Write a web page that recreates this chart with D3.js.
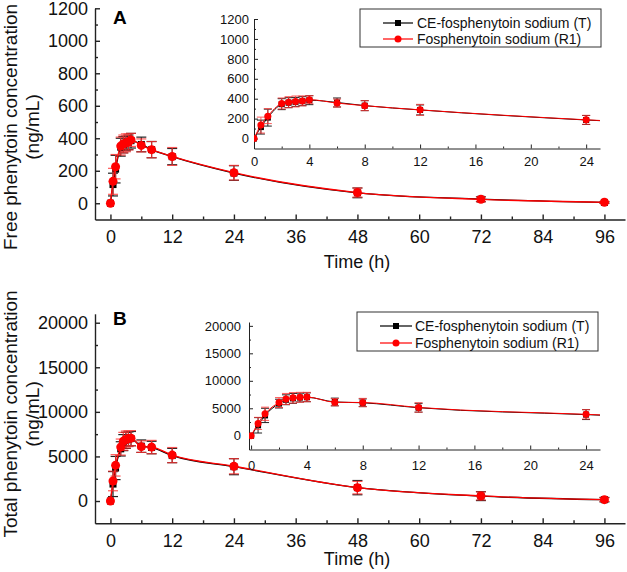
<!DOCTYPE html>
<html>
<head>
<meta charset="utf-8">
<script src="https://cdn.jsdelivr.net/npm/d3@7"></script>
<style>
    body { margin: 0; background: #fff; }
    svg { display: block; font-family: "Liberation Sans", Arial, sans-serif; }
</style>
</head>
<body>
<svg id="chart" width="627" height="572"></svg>
<script>
// sampling times (h)
var times = [0, 0.5, 1, 2, 2.5, 3, 3.5, 4, 6, 8, 12, 24, 48, 72, 96];

var seriesNames = ["CE-fosphenytoin sodium (T)", "Fosphenytoin sodium (R1)"];

// free phenytoin (ng/mL), mean and SD
var freeT = [0, 115, 210, 345, 360, 368, 375, 385, 362, 330, 287, 186, 64, 25, 5];
var freeTsd = [0, 70, 85, 55, 50, 45, 45, 45, 45, 50, 50, 45, 30, 15, 5];
var freeR = [0, 135, 225, 352, 365, 372, 378, 390, 356, 330, 288, 188, 66, 24, 6];
var freeRsd = [0, 80, 75, 55, 55, 55, 50, 40, 40, 50, 55, 45, 28, 15, 5];

// total phenytoin (ng/mL), mean and SD
var totalT = [0, 1900, 3700, 5850, 6550, 6800, 6950, 7000, 6150, 6000, 5100, 3850, 1500, 550, 150];
var totalTsd = [0, 1400, 1300, 800, 900, 900, 800, 800, 700, 700, 800, 900, 800, 500, 250];
var totalR = [0, 2250, 4000, 6050, 6700, 6900, 7000, 7050, 6100, 6050, 5150, 3900, 1500, 570, 150];
var totalRsd = [0, 1100, 1200, 900, 1000, 950, 900, 850, 650, 750, 850, 850, 700, 450, 200];

// tick labels
var mainXTicks = [0, 12, 24, 36, 48, 60, 72, 84, 96];
var insetXTicks = [0, 4, 8, 12, 16, 20, 24];
var freeYTicks = [0, 200, 400, 600, 800, 1000, 1200];
var totalYTicks = [0, 5000, 10000, 15000, 20000];

var svg = d3.select("#chart");

function makeSeries(m, sd) {
    return times.map(function (t, i) { return { t: t, v: m[i], sd: sd[i] } });
}

var freeSeries = [makeSeries(freeT, freeTsd), makeSeries(freeR, freeRsd)];
var totalSeries = [makeSeries(totalT, totalTsd), makeSeries(totalR, totalRsd)];

function minorValues(ticks, step, lo, hi) {
    var out = [];
    for (var v = lo; v <= hi + 1e-9; v += step) {
        if (ticks.indexOf(+v.toFixed(4)) < 0) out.push(v);
    }
    return out;
}

function drawPlot(cfg) {
    var g = svg.append("g");
    var x = d3.scaleLinear().domain(cfg.xDomain).range(cfg.xRange);
    var y = d3.scaleLinear().domain(cfg.yDomain).range(cfg.yRange);
    var y0 = cfg.yRange[0], x0 = cfg.xRange[0];
    var fmt = d3.format("d");

    // x axis (ticks point inward)
    g.append("g").attr("transform", "translate(0," + y0 + ")")
        .call(d3.axisBottom(x).tickValues(cfg.xTicks).tickFormat(fmt).tickSize(-cfg.major).tickSizeOuter(0).tickPadding(cfg.xPad));
    g.append("g").attr("transform", "translate(0," + y0 + ")")
        .call(d3.axisBottom(x).tickValues(cfg.xMinor).tickSize(-cfg.minor).tickFormat("").tickSizeOuter(0))
        .select(".domain").remove();

    g.append("g").attr("transform", "translate(" + x0 + ",0)")
        .call(d3.axisLeft(y).tickValues(cfg.yTicks).tickFormat(fmt).tickSize(-cfg.major).tickSizeOuter(0).tickPadding(cfg.yPad));
    g.append("g").attr("transform", "translate(" + x0 + ",0)")
        .call(d3.axisLeft(y).tickValues(cfg.yMinor).tickSize(-cfg.minor).tickFormat("").tickSizeOuter(0))
        .select(".domain").remove();

    g.selectAll(".domain").attr("stroke", "#222").attr("stroke-width", cfg.axisW);
    g.selectAll(".tick line").attr("stroke", "#222").attr("stroke-width", cfg.axisW);
    g.selectAll(".tick text").attr("fill", "#111").style("font-size", cfg.font + "px")
        .style("font-family", '"Liberation Sans", Arial, sans-serif');

    var plot = g.append("g");
    if (cfg.clip) {
        svg.append("clipPath").attr("id", cfg.clip).append("rect")
            .attr("x", x0).attr("y", cfg.yRange[1] - 10)
            .attr("width", cfg.xRange[1] - x0).attr("height", y0 - cfg.yRange[1] + 10);
        plot.attr("clip-path", "url(#" + cfg.clip + ")");
    }

    var line = d3.line().x(d => x(d.t)).y(d => y(d.v)).curve(d3.curveMonotoneX);
    var colors = ["#000000", "#ff0000"];
    var errColors = ["#222222", "#ff3030"];

    cfg.series.forEach(function (s, k) {
        var pts = s.filter(d => d.t <= cfg.xDomain[1]);
        plot.append("path").datum(s)
            .attr("d", line).attr("fill", "none")
            .attr("stroke", colors[k]).attr("stroke-width", cfg.lineW);

        var eb = plot.append("g").attr("stroke", errColors[k])
            .attr("stroke-width", cfg.errW).attr("opacity", k == 1 ? 0.8 : 1);
        var cw = cfg.cap / 2;
        pts.filter(d => d.sd > 0).forEach(function (d) {
            var cx = x(d.t), top = y(d.v + d.sd), bot = y(d.v - d.sd);
            eb.append("line").attr("x1", cx).attr("x2", cx).attr("y1", top).attr("y2", bot);
            eb.append("line").attr("x1", cx - cw).attr("x2", cx + cw).attr("y1", top).attr("y2", top);
            eb.append("line").attr("x1", cx - cw).attr("x2", cx + cw).attr("y1", bot).attr("y2", bot);
        });

        if (k == 0) {
            plot.append("g").selectAll("rect").data(pts).enter().append("rect")
                .attr("x", d => x(d.t) - cfg.sq / 2).attr("y", d => y(d.v) - cfg.sq / 2)
                .attr("width", cfg.sq).attr("height", cfg.sq).attr("fill", "#000");
        } else {
            plot.append("g").selectAll("circle").data(pts).enter().append("circle")
                .attr("cx", d => x(d.t)).attr("cy", d => y(d.v))
                .attr("r", cfg.r).attr("fill", "#ff0000");
        }
    });
    return g;
}

function drawLegend(lx, ly, w, h, rowY, lineX1, lineX2, textX) {
    var lg = svg.append("g");
    lg.append("rect").attr("x", lx).attr("y", ly).attr("width", w).attr("height", h)
        .attr("fill", "#fff").attr("stroke", "#333").attr("stroke-width", 1);
    var cols = ["#000", "#ff0000"];
    seriesNames.forEach(function (name, i) {
        var yy = rowY[i];
        lg.append("line").attr("x1", lineX1).attr("x2", lineX2).attr("y1", yy).attr("y2", yy)
            .attr("stroke", cols[i]).attr("stroke-width", 1.2);
        var mx = (lineX1 + lineX2) / 2;
        if (i == 0) {
            lg.append("rect").attr("x", mx - 3).attr("y", yy - 3).attr("width", 6).attr("height", 6).attr("fill", "#000");
        } else {
            lg.append("circle").attr("cx", mx).attr("cy", yy).attr("r", 3.5).attr("fill", "#ff0000");
        }
        lg.append("text").attr("x", textX).attr("y", yy + 5).style("font-size", "14px")
            .attr("fill", "#111").text(name);
    });
}

function yTitle(lines, cy) {
    lines.forEach(function (l) {
        svg.append("text")
            .attr("transform", "translate(" + l.x + "," + cy + ") rotate(-90)")
            .attr("text-anchor", "middle").style("font-size", "19px").attr("fill", "#111")
            .text(l.t);
    });
}

var mainCommon = {
    xDomain: [-3, 100], xRange: [95, 625], xTicks: mainXTicks,
    xMinor: minorValues(mainXTicks, 6, 6, 96),
    major: 5, minor: 3, font: 18, axisW: 1.4, xPad: 10.5, yPad: 7,
    lineW: 1.3, errW: 1.2, cap: 10, sq: 7, r: 4.5
};
var insetCommon = {
    xTicks: insetXTicks, xMinor: minorValues(insetXTicks, 2, 2, 24),
    major: 4, minor: 2, font: 13, axisW: 1, yPad: 5,
    lineW: 1, errW: 1, cap: 8, sq: 6, r: 3.5
};

// ---- panel A ----
drawPlot(Object.assign({}, mainCommon, {
    yDomain: [-100, 1200], yRange: [219.5, 8.3], yTicks: freeYTicks,
    yMinor: minorValues(freeYTicks, 100, 100, 1200), series: freeSeries
}));
drawPlot(Object.assign({}, insetCommon, {
    xDomain: [0, 25], xRange: [254, 600], xPad: 8,
    yDomain: [-100, 1200], yRange: [148.5, 19], yTicks: freeYTicks,
    yMinor: minorValues(freeYTicks, 100, 100, 1200), series: freeSeries, clip: "clipA"
}));
drawLegend(360, 9, 241, 38, [23, 39], 383, 413, 417);

svg.append("text").attr("x", 113).attr("y", 24).style("font-size", "19px")
    .style("font-weight", "bold").text("A");
svg.append("text").attr("x", 357).attr("y", 268).attr("text-anchor", "middle")
    .style("font-size", "18px").attr("fill", "#111").text("Time (h)");
yTitle([{ t: "Free phenytoin concentration", x: 17 }, { t: "(ng/mL)", x: 39 }], 127);

// ---- panel B ----
drawPlot(Object.assign({}, mainCommon, {
    yDomain: [-2500, 21000], yRange: [523.3, 313.8], yTicks: totalYTicks,
    yMinor: minorValues(totalYTicks, 2500, 2500, 17500), series: totalSeries
}));
drawPlot(Object.assign({}, insetCommon, {
    xDomain: [-0.15, 25], xRange: [249, 600], xPad: 11, yPad: 8,
    yDomain: [-2500, 20700], yRange: [449.5, 322], yTicks: totalYTicks,
    yMinor: minorValues(totalYTicks, 2500, 2500, 17500), series: totalSeries, clip: "clipB"
}));
drawLegend(357, 312, 241, 39, [326, 343], 380, 412, 415);

svg.append("text").attr("x", 113).attr("y", 325).style("font-size", "19px")
    .style("font-weight", "bold").text("B");
svg.append("text").attr("x", 357).attr("y", 565).attr("text-anchor", "middle")
    .style("font-size", "18px").attr("fill", "#111").text("Time (h)");
yTitle([{ t: "Total phenytoin concentration", x: 17 }, { t: "(ng/mL)", x: 39 }], 414);
</script>
</body>
</html>
